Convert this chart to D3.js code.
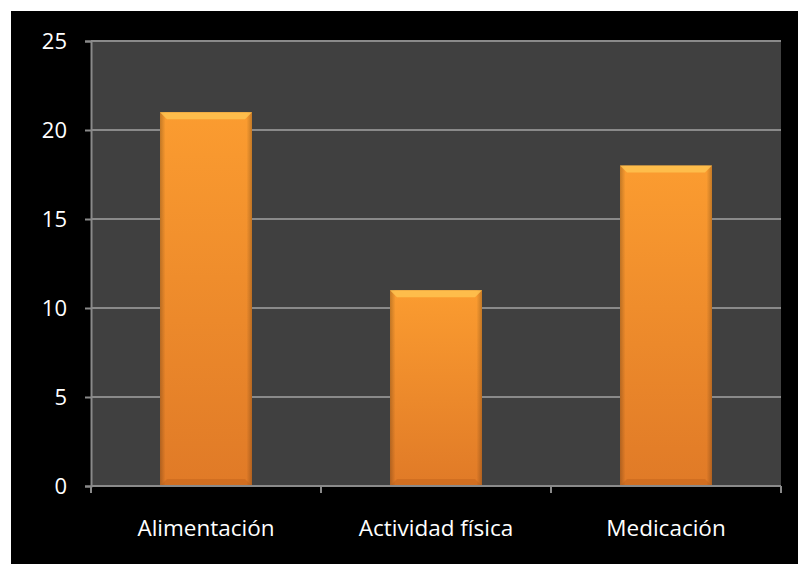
<!DOCTYPE html>
<html>
<head>
<meta charset="utf-8">
<script src="https://cdnjs.cloudflare.com/ajax/libs/d3/7.8.5/d3.min.js"></script>
<style>
  html, body { margin: 0; padding: 0; background: #fff; }
  svg { display: block; }
  text { font-family: "Open Sans", "Liberation Sans", sans-serif; fill: #fff; }
</style>
</head>
<body>
<svg id="chart" width="798" height="564"></svg>
<script>
var categories = ["Alimentación", "Actividad física", "Medicación"];
var values = [21, 11, 18];
var yTicks = [0, 5, 10, 15, 20, 25];

var W = 798, H = 564;
var plot = {left: 91, right: 781, top: 41, bottom: 486};

var svg = d3.select("#chart");

// black card with a thin white margin
svg.append("rect")
  .attr("x", 11).attr("y", 11)
  .attr("width", W - 11).attr("height", H - 11)
  .attr("fill", "#000");

var x = d3.scaleBand()
  .domain(categories)
  .range([plot.left, plot.right])
  .paddingInner(0.6)
  .paddingOuter(0.3);

var y = d3.scaleLinear()
  .domain([0, 25])
  .range([plot.bottom, plot.top]);

// plot area
svg.append("rect")
  .attr("x", plot.left).attr("y", plot.top)
  .attr("width", plot.right - plot.left)
  .attr("height", plot.bottom - plot.top)
  .attr("fill", "#404040");

// gridlines
svg.append("g")
  .selectAll("line")
  .data(yTicks.filter(function(d) { return d > 0; }))
  .enter().append("line")
  .attr("x1", plot.left).attr("x2", plot.right)
  .attr("y1", function(d) { return y(d); })
  .attr("y2", function(d) { return y(d); })
  .attr("stroke", "#8a8a8a")
  .attr("stroke-width", 2);

// gradient for bars
var defs = svg.append("defs");
var grad = defs.append("linearGradient")
  .attr("id", "barGrad")
  .attr("x1", 0).attr("y1", 0).attr("x2", 0).attr("y2", 1);
grad.append("stop").attr("offset", "0%").attr("stop-color", "#fb9c30");
grad.append("stop").attr("offset", "100%").attr("stop-color", "#e07a27");

var side = defs.append("linearGradient")
  .attr("id", "sideGrad")
  .attr("x1", 0).attr("y1", 0).attr("x2", 1).attr("y2", 0);
side.append("stop").attr("offset", "0%").attr("stop-color", "#000").attr("stop-opacity", 0.22);
side.append("stop").attr("offset", "6%").attr("stop-color", "#000").attr("stop-opacity", 0);
side.append("stop").attr("offset", "94%").attr("stop-color", "#000").attr("stop-opacity", 0);
side.append("stop").attr("offset", "100%").attr("stop-color", "#000").attr("stop-opacity", 0.22);

var bars = svg.append("g")
  .selectAll("g")
  .data(values)
  .enter().append("g");

bars.append("rect")
  .attr("x", function(d, i) { return x(categories[i]); })
  .attr("y", function(d) { return y(d); })
  .attr("width", x.bandwidth())
  .attr("height", function(d) { return y(0) - y(d); })
  .attr("fill", "url(#barGrad)");

bars.append("rect")
  .attr("x", function(d, i) { return x(categories[i]); })
  .attr("y", function(d) { return y(d); })
  .attr("width", x.bandwidth())
  .attr("height", function(d) { return y(0) - y(d); })
  .attr("fill", "url(#sideGrad)");

// top bevel (light)
var bevel = 7;
bars.append("path")
  .attr("d", function(d, i) {
    var x0 = x(categories[i]), x1 = x0 + x.bandwidth(), t = y(d);
    return "M" + x0 + "," + t + "L" + x1 + "," + t +
      "L" + (x1 - bevel) + "," + (t + bevel) + "L" + (x0 + bevel) + "," + (t + bevel) + "Z";
  })
  .attr("fill", "#ffc652")
  .attr("opacity", 0.8);

// bottom bevel (dark)
bars.append("path")
  .attr("d", function(d, i) {
    var x0 = x(categories[i]), x1 = x0 + x.bandwidth(), b = y(0);
    return "M" + x0 + "," + b + "L" + x1 + "," + b +
      "L" + (x1 - bevel) + "," + (b - bevel) + "L" + (x0 + bevel) + "," + (b - bevel) + "Z";
  })
  .attr("fill", "#b45a16")
  .attr("opacity", 0.35);

// y axis
var yAxis = svg.append("g")
  .attr("transform", "translate(" + plot.left + ",0)")
  .call(d3.axisLeft(y).tickValues(yTicks).tickSize(6).tickPadding(18));
yAxis.select(".domain").attr("stroke", "#8a8a8a").attr("stroke-width", 2);
yAxis.selectAll(".tick line").attr("stroke", "#8a8a8a").attr("stroke-width", 2);
yAxis.selectAll("text")
  .style("font-size", "22px")
  .attr("fill", "#fff");

// x axis baseline and ticks at category boundaries
var xAxisG = svg.append("g");
xAxisG.append("line")
  .attr("x1", plot.left).attr("x2", plot.right)
  .attr("y1", y(0)).attr("y2", y(0))
  .attr("stroke", "#8a8a8a").attr("stroke-width", 2);
var bounds = d3.range(categories.length + 1).map(function(i) {
  return plot.left + i * (plot.right - plot.left) / categories.length;
});
xAxisG.selectAll("line.tk")
  .data(bounds)
  .enter().append("line")
  .attr("class", "tk")
  .attr("x1", function(d) { return d; }).attr("x2", function(d) { return d; })
  .attr("y1", y(0)).attr("y2", y(0) + 7)
  .attr("stroke", "#8a8a8a").attr("stroke-width", 2);

xAxisG.selectAll("text")
  .data(categories)
  .enter().append("text")
  .attr("x", function(d) { return x(d) + x.bandwidth() / 2; })
  .attr("y", 536)
  .attr("text-anchor", "middle")
  .style("font-size", "22.5px")
  .text(function(d) { return d; });
</script>
</body>
</html>
